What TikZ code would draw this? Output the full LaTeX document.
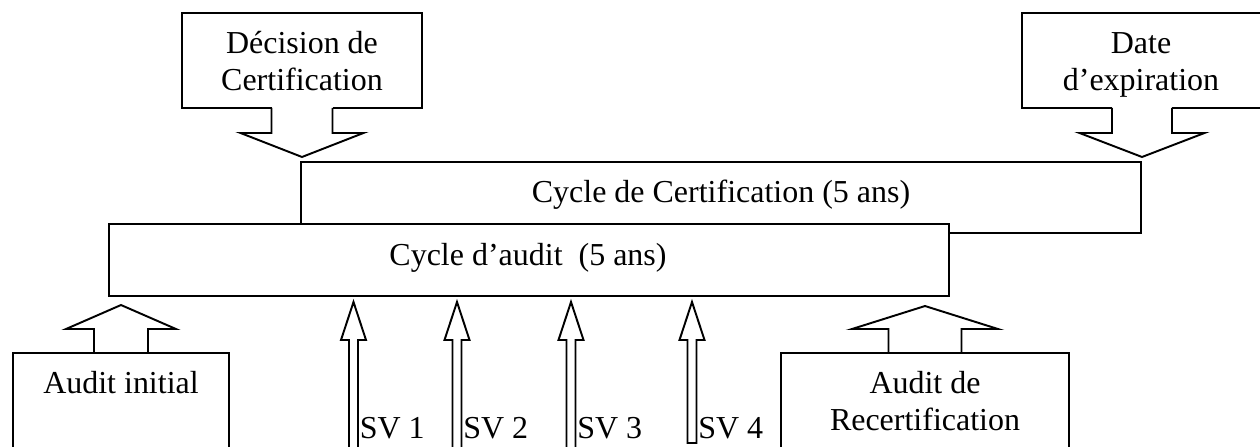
\documentclass[tikz,border=0pt]{standalone}
\usepackage{fontspec}
\setmainfont{Liberation Serif}
\tikzset{
  box/.style={draw, fill=white, line width=1.1pt, inner sep=0pt, outer sep=0pt},
  lbl/.style={inner sep=0pt, font=\fontsize{18.2}{21}\selectfont, align=center},
}
% hollow block arrow: anchor, stem half width, head half width, stem length, total length
\newcommand{\blockarrow}[5]{%
  \begin{scope}[shift={(#1)}]
    \fill[white] (-#2,-2) rectangle (#2,#4);
    \draw[line width=1.1pt] (-#2,0) -- (-#2,#4) -- (-#3,#4) -- (0,#5) -- (#3,#4) -- (#2,#4) -- (#2,0);
  \end{scope}}
\begin{document}
\begin{tikzpicture}[x=0.02cm, y=-0.02cm]
  \useasboundingbox (0,0) rectangle (1260,446);
  \clip (0,0) rectangle (1260,446);
  % boxes
  \node[box, minimum width=4.8cm, minimum height=1.9cm] (dec) at (302,60.5) {};
  \node[box, minimum width=4.8cm, minimum height=1.9cm] (exp) at (1142,60.5) {};
  \node[box, minimum width=16.8cm, minimum height=1.42cm] (cert) at (721,197.5) {};
  \node[box, minimum width=16.8cm, minimum height=1.44cm] (audit) at (529,260) {};
  \node[box, minimum width=4.32cm, minimum height=2.54cm] (init) at (121,416.5) {};
  \node[box, minimum width=5.76cm, minimum height=2.54cm] (recert) at (925,416.5) {};
  % texts
  \node[lbl, anchor=north] (dectxt) at (302,31) {Décision de\\Certification};
  \node[lbl, anchor=north] (exptxt) at (1141,32) {Date\\d’expiration};
  \node[lbl, anchor=base] (certtxt) at (721,202) {Cycle de Certification (5 ans)};
  \node[lbl, anchor=base] (audittxt) at (528,265) {Cycle d’audit\ \ (5 ans)};
  \node[lbl, anchor=base] (inittxt) at (121,393) {Audit initial};
  \node[lbl, anchor=north] (recerttxt) at (925,371) {Audit de\\Recertification};
  % callout arrows
  \blockarrow{dec.south}{30.5}{61.5}{25}{49}
  \blockarrow{exp.south}{30}{62.5}{25}{49}
  \blockarrow{init.north}{27}{55}{-24}{-48}
  \blockarrow{recert.north}{36.5}{73}{-24}{-47}
  % surveillance audits
  \foreach \x/\n/\b in {353.5/1/470, 457/2/470, 571/3/470, 692/4/443} {
    \coordinate (sv\n) at (\x,\b);
    \draw[line width=1.1pt, fill=white] (sv\n) ++(-4.5,0) -- (\x-4.5,340) -- (\x-12.5,340)
      -- (\x,302) -- (\x+12.5,340) -- (\x+4.5,340) -- (\x+4.5,\b) -- cycle;
    \node[lbl, anchor=base west] (svtxt\n) at (\x+6,438) {SV \n};
  }
\end{tikzpicture}
\end{document}
